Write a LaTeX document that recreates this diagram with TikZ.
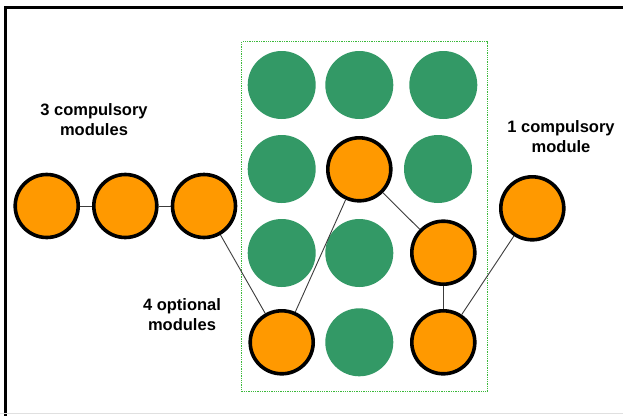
\documentclass[tikz,border=0pt]{standalone}
\usepackage{fontspec}
\setmainfont{Liberation Sans}
\definecolor{modorange}{RGB}{255,153,0}
\definecolor{modgreen}{RGB}{51,153,102}
\definecolor{linkgray}{RGB}{60,60,60}
\definecolor{boxgreen}{RGB}{60,185,60}
\begin{document}
\begin{tikzpicture}[x=1pt,y=-1pt,
  opt/.style={circle,draw=black,line width=3.6pt,fill=modorange,minimum size=63pt,inner sep=0pt},
  grn/.style={circle,fill=modgreen,minimum size=68pt,inner sep=0pt},
  lbl/.style={align=center,font=\bfseries\fontsize{16.5}{20}\selectfont,text=black},
  link/.style={draw=linkgray,line width=0.9pt}]
\useasboundingbox (0,0) rectangle (623,415);
\fill[white] (0,0) rectangle (623,415);
% frame
\draw[line width=2.2pt,black] (5.5,430) -- (5.5,7.5) -- (640,7.5);
\draw[line width=1.5pt,black!12] (0,413.5) -- (623,413.5);
% dotted box
\draw[draw=boxgreen,densely dotted,line width=1.3pt] (241.7,41.7) rectangle (487.3,391.7);
% green circles
\node[grn] (g11) at (281.7,85) {};
\node[grn] (g12) at (359.3,85) {};
\node[grn] (g13) at (443.3,85) {};
\node[grn] (g21) at (281.7,169) {};
\node[grn] (g23) at (438,169) {};
\node[grn] (g31) at (281.7,253) {};
\node[grn] (g32) at (359.3,253) {};
\node[grn] (g42) at (359.3,342.3) {};
% orange circles
\node[opt] (a1) at (46.7,206) {};
\node[opt] (a2) at (125.3,206) {};
\node[opt] (a3) at (204,206) {};
\node[opt] (o41) at (281.7,342.3) {};
\node[opt] (o22) at (359.3,169.3) {};
\node[opt] (o33) at (443.3,252.7) {};
\node[opt] (o43) at (443.3,342.3) {};
\node[opt] (b1) at (532.3,208.3) {};
% links
\draw[link] (a1) -- (a2);
\draw[link] (a2) -- (a3);
\draw[link] (a3) -- (o41);
\draw[link] (o41) -- (o22);
\draw[link] (o22) -- (o33);
\draw[link] (o33) -- (o43);
\draw[link] (o43) -- (b1);
% labels
\node[lbl] (t1) at (94,120) {3 compulsory\\modules};
\node[lbl] (t2) at (182,315) {4 optional\\modules};
\node[lbl] (t3) at (561,137) {1 compulsory\\module};
\end{tikzpicture}
\end{document}
